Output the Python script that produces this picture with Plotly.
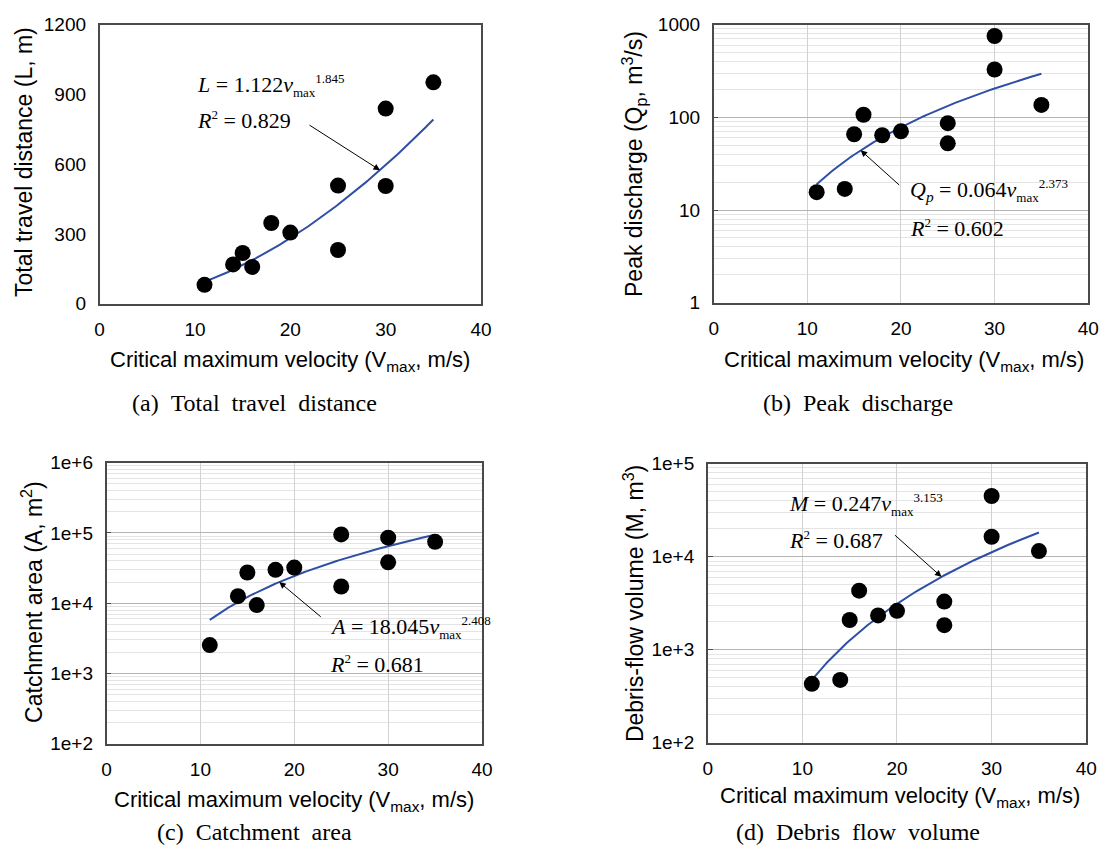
import numpy as np
import plotly.graph_objects as go

W, H = 1114, 866

# Critical maximum velocity of each event (m/s)
v_max = [11, 14, 15, 16, 18, 20, 25, 25, 30, 30, 35]

# Observed quantities per event
travel_distance = [81, 169, 218, 158, 347, 306, 508, 231, 839, 506, 952]        # L, m
peak_discharge = [15.6, 16.9, 65.7, 106.7, 64.1, 70.6, 86.5, 52.4, 754, 328, 136]  # Qp, m3/s
catchment_area = [2540, 12600, 27400, 9430, 29900, 32200, 95500, 17300, 85900, 38200, 74800]  # A, m2
debris_volume = [430, 474, 2090, 4320, 2340, 2620, 3300, 1840, 45000, 16400, 11500]  # M, m3

# Power-law fits y = a * v^b
fit_coef = {"a": 1.122, "b": 0.064, "c": 18.045, "d": 0.247}
fit_exp = {"a": 1.845, "b": 2.373, "c": 2.408, "d": 3.153}
fit_r2 = {"a": "0.829", "b": "0.602", "c": "0.681", "d": "0.687"}

# Log-axis tick labels
ticks_b = [1, 10, 100, 1000]
labels_b = ["1", "10", "100", "1000"]
ticks_c = [1e2, 1e3, 1e4, 1e5, 1e6]
labels_c = ["1e+2", "1e+3", "1e+4", "1e+5", "1e+6"]
ticks_d = [1e2, 1e3, 1e4, 1e5]
labels_d = ["1e+2", "1e+3", "1e+4", "1e+5"]

SANS = "Liberation Sans, Arial, sans-serif"
SERIF = "Liberation Serif, Times New Roman, serif"
BLUE = "#2f4fa5"
AXIS = "#4a4a4a"


def px_x(p):
    return p / W


def px_y(p):
    return 1 - p / H


fig = go.Figure()

panels = [
    # key, data, x-pixel box, y-pixel box, log?
    ("a", travel_distance, (96, 483), (15, 301), False),
    ("b", peak_discharge, (719, 1099), (15, 300), True),
    ("c", catchment_area, (103, 484), (464, 752), True),
    ("d", debris_volume, (713, 1097), (465, 751), True),
]

v_fit = np.linspace(11, 35, 120)

for i, (key, vals, xb, yb, is_log) in enumerate(panels):
    n = "" if i == 0 else str(i + 1)
    xa, ya = "x" + n, "y" + n
    fig.add_trace(go.Scatter(
        x=v_fit, y=fit_coef[key] * v_fit ** fit_exp[key], mode="lines",
        xaxis=xa, yaxis=ya, line=dict(color=BLUE, width=2), showlegend=False,
    ))
    fig.add_trace(go.Scatter(
        x=v_max, y=vals, mode="markers", xaxis=xa, yaxis=ya,
        marker=dict(size=16, color="black"), showlegend=False,
    ))
    xdom = [px_x(xb[0]), px_x(xb[1])]
    ydom = [px_y(yb[1]), px_y(yb[0])]
    xaxis = dict(
        domain=xdom, range=[0, 40], dtick=10, anchor=ya,
        showline=True, mirror=True, linecolor=AXIS, linewidth=1.5,
        showgrid=is_log, gridcolor="#d2d2d2", gridwidth=1, zeroline=False,
        ticks="", tickfont=dict(family=SANS, size=19, color="black"),
        ticklabelstandoff=8,
    )
    yaxis = dict(
        domain=ydom, anchor=xa, showline=True, mirror=True, linecolor=AXIS,
        linewidth=1.5, zeroline=False,
        tickfont=dict(family=SANS, size=19, color="black"),
        ticklabelstandoff=8,
    )
    if is_log:
        tv, tt = {"b": (ticks_b, labels_b), "c": (ticks_c, labels_c),
                  "d": (ticks_d, labels_d)}[key]
        minor_vals = [m * t for t in tv[:-1] for m in range(2, 10)]
        yaxis.update(
            type="log", range=[np.log10(tv[0]), np.log10(tv[-1])],
            tickmode="array", tickvals=tv, ticktext=tt,
            showgrid=True, gridcolor="#b4b4b4", gridwidth=1,
            ticks="inside", ticklen=5, tickcolor=AXIS,
            minor=dict(tickmode="array", tickvals=minor_vals, showgrid=True,
                       gridcolor="#e4e4e4", gridwidth=1, ticks=""),
        )
    else:
        yaxis.update(range=[0, 1200], dtick=300, showgrid=False, ticks="")
    fig.layout["xaxis" + n] = xaxis
    fig.layout["yaxis" + n] = yaxis

annotations = []


def text(px, py, s, size, family, angle=0, xanchor="center"):
    annotations.append(dict(
        x=px_x(px), y=px_y(py), xref="paper", yref="paper", text=s,
        showarrow=False, textangle=angle, xanchor=xanchor, yanchor="middle",
        font=dict(family=family, size=size, color="black"),
    ))


xtitle = "Critical maximum velocity (V<sub>max</sub>, m/s)"
text(289, 360, xtitle, 22, SANS)
text(912, 360, xtitle, 22, SANS)
text(293, 811, xtitle, 22, SANS)
text(908, 807, xtitle, 22, SANS)

text(20, 156, "Total travel distance (L, m)", 23, SANS, -90)
text(638, 158, "Peak discharge (Q<sub>p</sub>, m<sup>3</sup>/s)", 23, SANS, -90)
text(28, 607, "Catchment area (A, m<sup>2</sup>)", 23, SANS, -90)
text(638, 608, "Debris-flow volume (M, m<sup>3</sup>)", 23, SANS, -90)

sp = "\u00a0\u00a0"
text(253, 403, "(a)" + sp + "Total" + sp + "travel" + sp + "distance", 24, SERIF)
text(865, 403, "(b)" + sp + "Peak" + sp + "discharge", 24, SERIF)
text(253, 842, "(c)" + sp + "Catchment" + sp + "area", 24, SERIF)
text(865, 842, "(d)" + sp + "Debris" + sp + "flow" + sp + "volume", 24, SERIF)

small = "<span style='font-size:13px'>{}</span>"
symbols = {"a": "<i>L</i>", "b": "<i>Q<sub>p</sub></i>", "c": "<i>A</i>", "d": "<i>M</i>"}
eq_pos = {"a": (193, 77, 113), "b": (916, 185, 223), "c": (328, 633, 670), "d": (793, 507, 543)}
for key in "abcd":
    x0, y1, y2 = eq_pos[key]
    eq = (symbols[key] + " = " + f"{fit_coef[key]:g}" + "<i>v</i>"
          + "<sub>" + small.format("max") + "</sub>"
          + "<sup>" + small.format(f"{fit_exp[key]:.3f}") + "</sup>")
    text(x0, y1, eq, 22, SERIF, xanchor="left")
    text(x0, y2, "<i>R</i><sup>" + small.format("2") + "</sup> = " + fit_r2[key],
         22, SERIF, xanchor="left")

# Arrows from each equation to its fitted curve
arrow_at = {"a": (29.4, -72, -46), "b": (15.7, 40, 36), "c": (18.4, 43, 36), "d": (24.7, -48, -43)}
for i, key in enumerate("abcd"):
    n = "" if i == 0 else str(i + 1)
    xv, ax, ay = arrow_at[key]
    yv = fit_coef[key] * xv ** fit_exp[key]
    if key != "a":
        yv = np.log10(yv)
    annotations.append(dict(
        x=xv, y=yv, xref="x" + n, yref="y" + n, ax=ax, ay=ay,
        showarrow=True, arrowhead=2, arrowsize=1.3, arrowwidth=1,
        arrowcolor="black", text="",
    ))

fig.update_layout(
    width=W, height=H, autosize=False,
    margin=dict(l=0, r=0, t=0, b=0),
    paper_bgcolor="white", plot_bgcolor="white",
    annotations=annotations,
)

fig.write_html("out.html")
